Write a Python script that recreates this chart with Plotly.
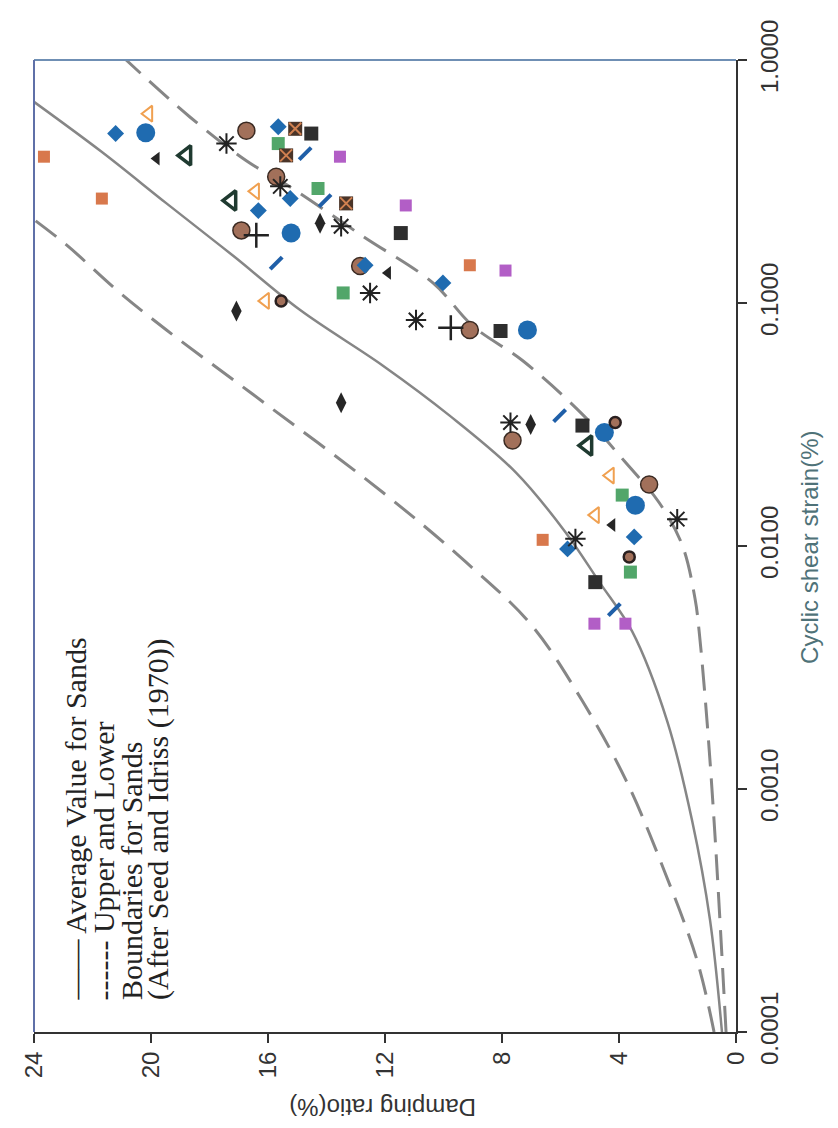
import plotly.graph_objects as go

# ---- Seed & Idriss (1970) curves: damping ratio (%) vs cyclic shear strain (%)
avg_strain = [0.0001, 0.00029, 0.00074, 0.0019, 0.00445, 0.0071, 0.0114, 0.0201, 0.0344, 0.0552, 0.0935, 0.156, 0.257, 0.42, 0.70]
avg_damping = [0.48, 0.89, 1.5, 2.35, 3.55, 4.67, 5.83, 7.53, 9.79, 12.07, 14.9, 17.18, 19.47, 21.7, 24.2]

lower_strain = [0.0001, 0.00029, 0.00074, 0.0019, 0.00445, 0.00607, 0.0101, 0.0151, 0.0221, 0.0348, 0.058, 0.0805, 0.121, 0.188, 0.30, 0.385, 0.58, 1.0]
lower_damping = [0.34, 0.55, 0.75, 0.99, 1.26, 1.40, 1.84, 2.63, 3.78, 5.25, 7.3, 9.0, 10.36, 12.75, 15.24, 16.74, 18.65, 20.85]

upper_strain = [0.0001, 0.000197, 0.00046, 0.00108, 0.0023, 0.00474, 0.0086, 0.0166, 0.0428, 0.0774, 0.113, 0.173, 0.225]
upper_damping = [0.75, 1.33, 2.45, 3.75, 5.25, 7.0, 9.24, 12.07, 16.6, 19.47, 21.17, 22.88, 24.1]

# ---- measured points
blue_diamond_strain = [0.498, 0.531, 0.240, 0.269, 0.121, 0.143, 0.00973, 0.0109]
blue_diamond_damping = [21.21, 15.65, 16.33, 15.24, 10.02, 12.68, 5.76, 3.48]

blue_circle_strain = [0.502, 0.194, 0.0774, 0.0293, 0.0147]
blue_circle_damping = [20.18, 15.21, 7.13, 4.5, 3.44]

orange_tri_strain = [0.601, 0.288, 0.102, 0.0195, 0.0134]
orange_tri_damping = [20.08, 16.43, 16.09, 4.30, 4.81]

orange_sq_strain = [0.400, 0.269, 0.143, 0.0106]
orange_sq_damping = [23.66, 21.68, 9.10, 6.61]

black_tri_strain = [0.393, 0.133, 0.0122]
black_tri_damping = [19.81, 11.9, 4.23]

dark_tri_strain = [0.405, 0.264, 0.0259]
dark_tri_damping = [18.79, 17.25, 5.08]

brown_circle_strain = [0.512, 0.331, 0.199, 0.142, 0.0774, 0.0272, 0.0179]
brown_circle_damping = [16.74, 15.72, 16.91, 12.85, 9.10, 7.64, 2.97]

ring_circle_strain = [0.102, 0.0322, 0.00902]
ring_circle_damping = [15.55, 4.13, 3.65]

black_sq_strain = [0.498, 0.194, 0.0767, 0.0313, 0.0071]
black_sq_damping = [14.52, 11.46, 8.05, 5.25, 4.81]

brown_sq_strain = [0.521, 0.405, 0.257]
brown_sq_damping = [15.07, 15.38, 13.33]

green_sq_strain = [0.453, 0.296, 0.110, 0.0162, 0.00781]
green_sq_damping = [15.65, 14.29, 13.43, 3.89, 3.61]

purple_sq_strain = [0.400, 0.252, 0.136, 0.00479, 0.00479]
purple_sq_damping = [13.54, 11.29, 7.88, 4.84, 3.78]

asterisk_strain = [0.453, 0.302, 0.207, 0.110, 0.0851, 0.0322, 0.0107, 0.0129]
asterisk_damping = [17.42, 15.58, 13.5, 12.51, 10.94, 7.71, 5.49, 2.01]

cross_strain = [0.190, 0.0791]
cross_damping = [16.4, 9.75]

blue_dash_strain = [0.412, 0.264, 0.146, 0.0344, 0.00547]
blue_dash_damping = [14.73, 14.05, 15.72, 6.03, 4.16]

black_diamond_strain = [0.0927, 0.213, 0.0316, 0.0389]
black_diamond_damping = [17.08, 14.22, 7.02, 13.5]

x_ticks = [24, 20, 16, 12, 8, 4, 0]
y_ticks = [0.0001, 0.001, 0.01, 0.1, 1.0]
y_tick_text = ["0.0001", "0.0010", "0.0100", "0.1000", "1.0000"]

legend_lines = ["—— Average Value for Sands", "------ Upper and Lower",
                "Boundaries for Sands", "(After Seed and Idriss (1970))"]

# page has an 8px body margin; figure sized to fit the 838x1128 window
OFF = 8
W, H = 838 - 2 * OFF, 1128 - 2 * OFF
# plot area in page pixels
L, R, T, B = 33, 736, 56, 1032


def px(x):
    return (x - L) / (R - L)


def py(y):
    return (B - y) / (B - T)


fig = go.Figure()

curve_col = "#868686"
fig.add_trace(go.Scatter(x=upper_damping, y=upper_strain, mode="lines", line_shape="spline",
                         line=dict(color=curve_col, width=3, dash="26px,12px"), showlegend=False))
fig.add_trace(go.Scatter(x=lower_damping, y=lower_strain, mode="lines", line_shape="spline",
                         line=dict(color=curve_col, width=3, dash="26px,12px"), showlegend=False))
fig.add_trace(go.Scatter(x=avg_damping, y=avg_strain, mode="lines", line_shape="spline",
                         line=dict(color=curve_col, width=2.5), showlegend=False))


def pts(xs, ys, symbol, color, size, line_color=None, line_width=0):
    fig.add_trace(go.Scatter(
        x=xs, y=ys, mode="markers", showlegend=False,
        marker=dict(symbol=symbol, color=color, size=size,
                    line=dict(color=line_color or color, width=line_width))))


pts(orange_sq_damping, orange_sq_strain, "square", "#d8784c", 12)
pts(purple_sq_damping, purple_sq_strain, "square", "#b25ec6", 12)
pts(green_sq_damping, green_sq_strain, "square", "#52a66a", 13)
pts(black_sq_damping, black_sq_strain, "square", "#2e2e2e", 14)
pts(brown_sq_damping, brown_sq_strain, "square", "#4a3428", 14)
pts(brown_sq_damping, brown_sq_strain, "x-thin-open", "#d08050", 12, "#d08050", 2)
pts(blue_circle_damping, blue_circle_strain, "circle", "#1f6bb0", 19)
pts(brown_circle_damping, brown_circle_strain, "circle", "#a2705a", 17, "#3a2a22", 1.5)
pts(ring_circle_damping, ring_circle_strain, "circle", "#a2705a", 11, "#2a2020", 2.5)
pts(blue_diamond_damping, blue_diamond_strain, "diamond", "#1f6bb0", 13)
pts(black_diamond_damping, black_diamond_strain, "diamond-tall", "#262626", 15)
pts(black_tri_damping, black_tri_strain, "triangle-left", "#262626", 12)
pts(dark_tri_damping, dark_tri_strain, "triangle-left-open", "#1f3a30", 17, "#1f3a30", 3.5)
pts(orange_tri_damping, orange_tri_strain, "triangle-left-open", "#f0a050", 14, "#f0a050", 2)
pts(blue_dash_damping, blue_dash_strain, "line-ne", "#1f5fa8", 12, "#1f5fa8", 4)
pts(asterisk_damping, asterisk_strain, "asterisk-open", "#222222", 17, "#222222", 2)
pts(cross_damping, cross_strain, "cross-thin-open", "#222222", 18, "#222222", 2.5)

axis_font = dict(family="Liberation Sans, Arial, sans-serif", size=24, color="#333333")

fig.update_layout(
    width=W, height=H,
    margin=dict(l=L - OFF, r=W - (R - OFF), t=T - OFF, b=H - (B - OFF)),
    paper_bgcolor="white", plot_bgcolor="white",
    xaxis=dict(range=[24, 0], tickvals=x_ticks, ticktext=[str(v) for v in x_ticks],
               tickangle=-90, ticks="outside", ticklen=9, tickwidth=2, tickcolor="#333",
               showline=True, linecolor="#333", linewidth=2, showgrid=False, zeroline=False,
               tickfont=axis_font, ticklabelstandoff=-1),
    yaxis=dict(type="log", range=[-4, 0], side="right", tickvals=y_ticks, ticktext=y_tick_text,
               tickangle=-90, ticks="outside", ticklen=9, tickwidth=2, tickcolor="#333",
               showline=True, linecolor="#333", linewidth=2, showgrid=False, zeroline=False,
               tickfont=axis_font, ticklabelstandoff=2),
)

# frame top and left edges
fig.add_shape(type="line", xref="paper", yref="paper", x0=0, x1=1, y0=1, y1=1,
              line=dict(color="#6f8fb4", width=2))
fig.add_shape(type="line", xref="paper", yref="paper", x0=0, x1=0, y0=0, y1=1,
              line=dict(color="#5f70a8", width=2))

# axis titles
fig.add_annotation(text="Cyclic shear strain(%)", xref="paper", yref="paper",
                   x=px(810), y=py(545), textangle=-90, showarrow=False,
                   xanchor="center", yanchor="middle",
                   font=dict(family="Liberation Sans, Arial, sans-serif", size=24, color="#4f7278"))
fig.add_annotation(text="Damping ratio(%)", xref="paper", yref="paper",
                   x=px(382), y=py(1108), textangle=180, showarrow=False,
                   xanchor="center", yanchor="middle",
                   font=dict(family="Liberation Sans, Arial, sans-serif", size=24, color="#333333"))

# legend text (rotated)
for txt, cx in zip(legend_lines, [75, 103, 130, 157]):
    fig.add_annotation(text=txt, xref="paper", yref="paper", x=px(cx), y=py(1002),
                       textangle=-90, showarrow=False, xanchor="center", yanchor="bottom",
                       font=dict(family="Liberation Serif, Times New Roman, serif", size=30,
                                 color="#222222"))

fig.write_html("out.html")
